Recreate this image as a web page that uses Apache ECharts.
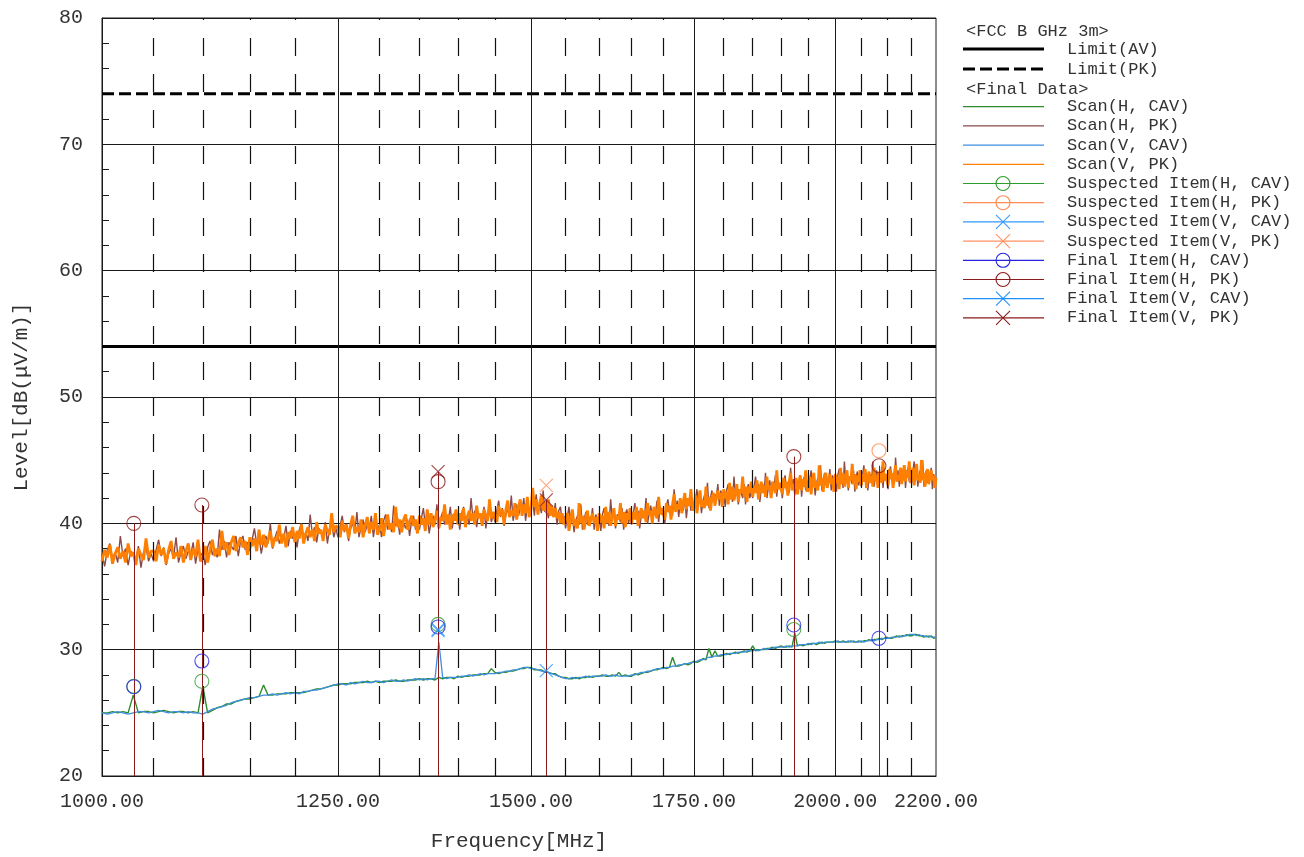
<!DOCTYPE html>
<html>
<head>
<meta charset="utf-8">
<title>Radiated emission scan 1-2.2 GHz</title>
<script src="https://cdn.jsdelivr.net/npm/echarts@6/dist/echarts.min.js"></script>
<style>
  html, body { margin: 0; padding: 0; background: #ffffff; }
  #chart { width: 1304px; height: 857px; }
</style>
</head>
<body>
<div id="chart"></div>
<script>
// ---- axis ticks and grid ----
const X_MIN = 1000, X_MAX = 2200;
const X_TICKS = [1000, 1250, 1500, 1750, 2000, 2200];
const X_GRID_SOLID = [1250, 1500, 1750, 2000];
const X_GRID_DASHED = [1050, 1100, 1150, 1200, 1300, 1350, 1400, 1450, 1550, 1600,
                       1650, 1700, 1800, 1850, 1900, 1950, 2050, 2100, 2150];
const Y_MIN = 20, Y_MAX = 80;

// ---- limits (dBuV/m) ----
const LIMIT_AV = 54;
const LIMIT_PK = 74;

// ---- peak scans: 2.5 MHz step from 1000 MHz ----
const PK_START = 1000, PK_STEP = 2.5;
const scanVPK = [
  37.0,37.9,37.3,38.3,36.8,37.6,38.1,37.2,37.8,36.9,38.4,37.4,37.7,36.7,38.0,37.5,37.1,38.8,37.3,37.8,
  37.8,37.0,38.3,37.5,38.0,36.8,37.9,38.6,37.2,37.7,37.3,38.2,36.9,37.8,38.4,37.1,38.0,37.4,38.7,37.0,
  37.3,38.2,36.9,37.9,38.7,37.4,38.0,37.4,39.4,37.9,38.5,37.5,38.5,39.0,37.8,38.4,38.9,38.1,38.6,37.5,
  38.9,38.2,38.8,37.8,39.5,38.3,39.1,38.1,38.7,39.4,38.1,38.9,38.6,39.9,38.4,39.2,38.1,39.3,38.8,39.7,
  38.5,39.4,38.8,39.9,38.4,39.2,39.7,38.9,39.5,38.6,40.1,39.2,39.5,38.6,39.9,39.4,39.1,40.8,39.3,39.8,
  39.7,38.9,40.2,39.4,39.9,38.8,39.9,40.6,39.2,39.7,39.3,40.3,38.9,39.8,40.5,39.2,40.1,39.5,40.8,39.1,
  39.5,40.4,39.0,40.0,40.7,39.5,40.0,39.3,41.3,39.7,40.3,39.3,40.3,40.7,39.5,40.1,40.6,39.8,40.3,39.2,
  40.6,39.9,40.4,39.4,41.1,39.9,40.8,39.7,40.3,41.0,39.6,40.5,40.2,41.5,39.9,40.7,39.5,40.7,40.2,41.1,
  39.9,40.8,40.2,41.2,39.7,40.5,41.0,40.2,40.8,39.9,41.4,40.4,40.8,39.8,41.1,40.6,40.2,41.9,40.4,40.9,
  40.9,40.1,41.4,40.6,41.1,39.9,41.1,41.8,40.5,41.0,40.6,41.6,40.3,41.2,41.9,40.6,41.5,40.8,42.1,40.5,
  41.0,42.8,41.3,41.9,40.7,41.6,42.2,41.0,41.7,40.8,41.9,40.6,41.4,40.5,41.2,40.4,40.9,40.0,40.8,39.9,
  39.9,40.8,39.4,40.4,41.1,39.8,40.3,39.6,41.6,40.0,40.6,39.5,40.5,41.0,39.8,40.3,40.8,40.0,40.5,39.4,
  40.8,40.1,40.6,39.6,41.3,40.0,40.9,39.8,40.5,41.2,39.8,40.6,40.3,41.6,40.0,40.9,39.7,40.8,40.3,41.2,
  40.0,40.9,40.3,41.3,39.8,40.7,41.2,40.4,41.0,40.1,41.6,40.7,41.0,40.0,41.3,40.8,40.4,42.1,40.7,41.2,
  41.1,40.3,41.6,40.9,41.4,40.3,41.5,42.3,40.9,41.5,41.1,42.0,40.8,41.7,42.4,41.1,42.0,41.4,42.7,41.0,
  41.3,42.2,40.8,41.8,42.6,41.3,41.8,41.2,42.9,41.4,42.1,41.0,42.0,42.4,41.4,42.0,42.6,41.9,42.4,41.3,
  42.7,42.0,42.5,41.5,43.2,41.9,42.9,41.8,42.4,43.1,41.7,42.7,42.4,43.7,42.1,42.9,41.7,42.9,42.4,43.3,
  42.1,43.0,42.4,43.4,41.9,42.7,43.3,42.4,43.0,42.1,43.7,42.7,43.0,42.0,43.3,42.8,42.4,44.2,42.7,43.2,
  43.1,42.3,43.6,42.8,43.3,42.2,43.3,44.0,42.6,43.1,42.7,43.6,42.3,43.2,43.8,42.6,43.5,42.9,44.2,42.5,
  42.8,43.7,42.3,43.3,44.0,42.8,43.3,42.6,44.6,43.0,43.6,42.5,43.6,44.0,42.8,43.4,43.9,43.1,43.6,42.5,
  43.9,43.2,43.7,42.7,44.4,43.1,44.0,42.9,43.5,44.2,42.8,43.7,43.4,44.7,43.1,43.9,42.7,43.8,43.3,44.2,
  43.0,43.9,43.3,44.3,42.8,43.6,44.1,43.2,43.8,42.9,44.4,43.4,43.8,42.8,44.1,43.6,43.2,44.9,43.4,43.9,
  43.8,43.0,44.3,43.5,44.0,42.8,43.9,44.6,43.3,43.8,43.4,44.4,43.1,44.0,44.6,43.3,44.2,43.6,44.9,43.2,
  43.5,44.4,43.0,44.0,44.7,43.4,43.9,43.2,45.0,43.4,44.0,42.9,43.9,44.3,43.1,43.7,44.2,43.4,43.8,42.8,
  43.6
];
const scanHPK = [
  37.6,36.6,37.9,38.4,37.2,37.7,36.9,39.0,37.4,38.0,36.7,37.8,37.5,37.1,38.2,36.5,37.7,38.1,37.0,37.6,
  37.0,37.9,38.7,37.4,38.1,36.7,37.6,38.0,37.3,38.9,36.9,37.7,38.2,37.2,37.8,37.5,38.5,36.8,38.0,37.4,
  37.7,36.7,38.1,38.6,37.5,38.0,37.3,39.5,37.9,38.6,37.3,38.5,38.2,37.9,39.0,37.4,38.6,39.0,37.9,38.5,
  37.8,38.7,39.6,38.3,39.0,37.6,38.6,39.0,38.4,40.0,38.0,38.8,39.4,38.4,39.0,38.8,39.8,38.2,39.4,38.8,
  39.1,38.1,39.5,40.0,38.8,39.3,38.6,40.7,39.1,39.7,38.5,39.6,39.3,38.9,40.1,38.4,39.6,40.0,38.9,39.6,
  38.9,39.8,40.6,39.3,40.0,38.6,39.6,40.0,39.3,40.9,38.9,39.7,40.3,39.3,39.9,39.6,40.6,38.9,40.1,39.5,
  39.9,38.9,40.2,40.7,39.5,40.0,39.3,41.4,39.8,40.4,39.1,40.2,40.0,39.6,40.3,39.0,40.2,40.6,39.5,40.1,
  39.5,40.4,41.2,39.9,40.6,39.2,40.2,40.6,39.9,41.5,39.6,40.4,40.9,39.9,40.5,40.3,41.3,39.6,40.8,40.2,
  40.5,39.5,40.8,41.3,40.1,40.6,39.9,42.0,40.4,41.0,39.7,40.8,40.6,40.2,41.3,39.6,40.8,41.2,40.1,40.7,
  40.1,41.0,41.8,40.5,41.2,39.8,40.7,41.1,40.6,42.2,40.2,41.0,41.5,40.6,41.2,41.0,42.0,40.2,41.4,40.9,
  41.3,41.8,40.6,42.3,41.0,41.5,40.8,42.6,40.9,41.3,40.4,41.5,41.1,40.5,41.6,39.9,41.0,41.3,40.1,40.6,
  39.6,40.5,41.3,40.0,40.7,39.3,40.2,40.6,39.9,41.5,39.5,40.3,40.9,39.9,40.5,40.2,41.2,39.5,40.7,40.1,
  40.4,39.4,40.7,41.2,40.0,40.5,39.8,41.9,40.3,40.9,39.6,40.7,40.5,40.1,41.2,39.5,40.7,41.1,40.0,40.6,
  39.9,40.8,41.6,40.3,41.0,39.6,40.6,41.0,40.4,42.0,40.0,40.8,41.4,40.4,41.0,40.8,41.8,40.1,41.3,40.7,
  41.0,40.0,41.4,41.9,40.8,41.3,40.6,42.7,41.2,41.8,40.5,41.6,41.4,41.0,42.1,40.4,41.6,42.0,41.0,41.6,
  41.0,41.9,42.7,41.5,42.2,40.8,41.8,42.2,41.6,43.2,41.2,42.0,42.6,41.7,42.3,42.1,43.1,41.4,42.6,42.0,
  42.3,41.3,42.6,43.1,41.9,42.4,41.7,43.7,42.2,42.8,41.5,42.6,42.4,42.0,43.1,41.5,42.7,43.1,42.0,42.7,
  42.0,42.9,43.7,42.4,43.1,41.7,42.7,43.1,42.4,44.0,42.0,42.8,43.4,42.4,43.0,42.8,43.8,42.1,43.3,42.7,
  43.0,42.0,43.3,43.8,42.6,43.1,42.4,44.4,42.9,43.5,42.2,43.3,43.1,42.7,43.8,42.1,43.3,43.7,42.6,43.2,
  42.5,43.4,44.2,42.9,43.6,42.2,43.2,43.6,43.0,44.6,42.6,43.4,44.0,43.0,43.6,43.3,44.3,42.6,43.8,43.2,
  43.5,42.5,43.8,44.3,43.1,43.6,42.8,44.9,43.3,43.9,42.6,43.7,43.5,43.1,44.2,42.5,43.7,44.1,43.0,43.6,
  42.9,43.8,44.6,43.3,44.0,42.6,43.5,43.9,43.3,44.9,42.9,43.7,44.2,43.2,43.8,43.5,44.5,42.8,44.0,43.4,
  43.7,42.7,44.0,44.5,43.3,43.8,43.1,45.2,43.6,44.2,42.9,44.0,43.8,43.4,44.5,42.8,44.0,44.4,43.3,43.9,
  43.2,44.1,44.9,43.6,44.3,42.9,43.8,44.2,43.5,45.0,42.9,43.7,44.2,43.2,43.8,43.5,44.4,42.7,43.9,43.3,
  43.5
];

// ---- CISPR average scans: 5 MHz step from 1000 MHz ----
const CAV_START = 1000, CAV_STEP = 5;
const scanVCAV = [
  25.0,24.9,25.0,25.1,25.0,24.9,25.0,25.1,25.1,25.0,
  25.1,25.2,25.1,25.0,25.1,25.1,25.0,25.1,25.0,25.0,
  24.9,25.1,25.3,25.4,25.5,25.6,25.8,25.9,26.0,26.1,
  26.2,26.2,26.3,26.4,26.4,26.5,26.4,26.5,26.6,26.5,
  26.6,26.5,26.7,26.7,26.8,26.8,26.9,27.0,27.1,27.2,
  27.3,27.3,27.2,27.4,27.3,27.4,27.5,27.4,27.4,27.5,
  27.5,27.4,27.5,27.6,27.5,27.5,27.6,27.5,27.6,27.7,
  27.6,27.7,27.6,27.7,27.7,30.6,27.8,27.7,27.8,27.8,
  27.8,27.9,27.9,28.0,27.9,28.0,28.1,28.0,28.1,28.1,
  28.1,28.2,28.2,28.3,28.3,28.4,28.4,28.5,28.6,28.6,
  28.5,28.5,28.4,28.3,28.3,28.2,28.1,28.0,27.9,27.8,
  27.7,27.7,27.8,27.7,27.8,27.8,27.9,27.8,27.9,27.9,
  27.9,27.9,28.0,27.9,27.9,28.0,27.9,27.9,27.9,27.9,
  28.0,28.0,28.1,28.2,28.2,28.3,28.3,28.4,28.5,28.5,
  28.5,28.6,28.6,28.7,28.7,28.8,28.8,28.9,28.9,29.0,
  29.0,29.1,29.2,29.2,29.3,29.4,29.4,29.5,29.5,29.6,
  29.6,29.6,29.7,29.7,29.7,29.8,29.8,29.8,29.9,29.9,
  29.9,30.0,29.9,30.0,30.1,30.0,30.1,30.1,30.2,30.2,
  30.2,30.2,30.3,30.2,30.3,30.3,30.3,30.4,30.4,30.4,
  30.5,30.4,30.5,30.5,30.6,30.5,30.6,30.6,30.6,30.6,
  30.6,30.7,30.6,30.6,30.6,30.7,30.6,30.7,30.6,30.6,
  30.7,30.6,30.7,30.7,30.8,30.7,30.8,30.8,30.9,30.9,
  30.9,30.9,31.0,31.0,31.0,31.1,31.0,31.1,31.1,31.2,
  31.2,31.2,31.1,31.2,31.1,31.1,31.0,31.1,31.0,31.0,
  31.0
];
const scanHCAV = [
  25.0,25.0,25.1,25.0,25.1,25.0,26.4,25.0,25.1,25.1,
  25.0,25.1,25.2,25.1,25.0,25.1,25.1,25.0,25.1,25.0,
  27.1,25.0,25.2,25.4,25.5,25.7,25.7,25.9,26.0,26.1,
  26.1,26.2,26.3,27.2,26.4,26.4,26.5,26.5,26.5,26.6,
  26.6,26.6,26.6,26.7,26.8,26.9,26.9,27.0,27.1,27.2,
  27.2,27.3,27.3,27.3,27.4,27.4,27.4,27.5,27.4,27.5,
  27.4,27.5,27.5,27.5,27.6,27.5,27.5,27.6,27.6,27.6,
  27.7,27.6,27.7,27.7,27.6,27.8,27.7,27.8,27.8,27.7,
  27.9,27.8,27.9,27.9,28.0,28.0,28.0,28.1,28.1,28.5,
  28.2,28.1,28.2,28.2,28.3,28.3,28.4,28.5,28.5,28.6,
  28.6,28.4,28.4,28.4,28.2,28.2,28.1,28.1,27.9,27.8,
  27.8,27.7,27.7,27.8,27.7,27.8,27.8,27.9,27.8,27.9,
  27.9,28.0,27.9,27.9,28.0,27.9,28.2,27.9,28.0,27.9,
  27.9,28.1,28.0,28.1,28.2,28.2,28.3,28.4,28.4,28.5,
  28.6,28.5,28.6,29.4,28.7,28.7,28.8,28.9,28.8,28.9,
  29.1,29.0,29.1,29.3,29.2,30.1,29.4,29.9,29.5,29.5,
  29.6,29.7,29.6,29.7,29.8,29.7,29.8,29.9,29.8,29.9,
  30.3,29.9,30.0,30.0,30.0,30.1,30.1,30.2,30.1,30.2,
  30.3,30.2,30.2,30.3,30.2,31.3,30.3,30.4,30.3,30.4,
  30.4,30.5,30.5,30.4,30.5,30.6,30.5,30.6,30.6,30.6,
  30.7,30.6,30.6,30.7,30.6,30.6,30.7,30.6,30.6,30.7,
  30.6,30.7,30.7,30.8,30.7,30.8,30.8,30.9,30.8,30.9,
  31.0,30.9,30.9,31.0,31.1,31.0,31.1,31.1,31.2,31.1,
  31.1,31.2,31.2,31.1,31.1,31.0,31.1,31.0,31.1,30.9,
  31.0
];

// ---- measured items: [frequency MHz, level dBuV/m] ----
const suspectedHCAV = [[1030.5, 27.1], [1099, 27.5], [1374, 32.0], [1923.3, 31.6]];
const suspectedHPK  = [[2084.5, 45.75]];
const suspectedVCAV = [[1374, 31.6]];
const suspectedVPK  = [[1522, 43.0]];
const finalHCAV = [[1030.5, 27.07], [1099, 29.1], [1374, 31.8], [1923.3, 31.95], [2084.5, 30.9]];
const finalHPK  = [[1030.5, 40.0], [1099, 41.45], [1374, 43.3], [1923.3, 45.28], [2084.5, 44.56]];
const finalVCAV = [[1374, 31.5], [1522, 28.34]];
const finalVPK  = [[1374, 44.09], [1522, 41.85]];

// ---- styling ----
const FONT = 'Liberation Mono';
const TEXT = '#333333';
const GRID = '#1a1a1a';
const STEM = '#8b1a1a';
const CROSS = 'path://M0,0L10,10M10,0L0,10';

const toPoints = (vals, start, step) => vals.map((v, i) => [start + i * step, v]);

function scanSeries(name, color, vals, start, step, width, z) {
  return {
    name, type: 'line', data: toPoints(vals, start, step),
    showSymbol: false, symbol: 'none', sampling: 'none', z,
    lineStyle: { color, width }, itemStyle: { color }, emphasis: { disabled: true }
  };
}
function itemSeries(name, color, shape, data, z) {
  return {
    name, type: 'scatter', data, z,
    symbol: shape === 'circle' ? 'circle' : CROSS,
    symbolSize: shape === 'circle' ? 14 : 13,
    itemStyle: { color: 'rgba(0,0,0,0)', borderColor: color, borderWidth: 1.1 },
    emphasis: { disabled: true }
  };
}

// legend entries, in order of the key
const KEY = [
  { name: 'Scan(H, CAV)', color: '#2e8b2e', kind: 'line' },
  { name: 'Scan(H, PK)', color: '#8a4a4a', kind: 'line' },
  { name: 'Scan(V, CAV)', color: '#3d8fe0', kind: 'line' },
  { name: 'Scan(V, PK)', color: '#ff8000', kind: 'line' },
  { name: 'Suspected Item(H, CAV)', color: '#2e9b2e', kind: 'circle' },
  { name: 'Suspected Item(H, PK)', color: '#ff8c50', kind: 'circle' },
  { name: 'Suspected Item(V, CAV)', color: '#3399ff', kind: 'cross' },
  { name: 'Suspected Item(V, PK)', color: '#ff9060', kind: 'cross' },
  { name: 'Final Item(H, CAV)', color: '#2424e0', kind: 'circle' },
  { name: 'Final Item(H, PK)', color: '#8b1a1a', kind: 'circle' },
  { name: 'Final Item(V, CAV)', color: '#1e90ff', kind: 'cross' },
  { name: 'Final Item(V, PK)', color: '#8b1a1a', kind: 'cross' }
];
const col = n => KEY.find(k => k.name === n).color;

// stems: one vertical line per final frequency, up to the highest peak item
const stemTop = {};
[...finalHPK, ...finalVPK].forEach(([f, v]) => { stemTop[f] = Math.max(stemTop[f] || Y_MIN, v); });
const stems = Object.keys(stemTop).map(f => [
  { coord: [Number(f), Y_MIN] }, { coord: [Number(f), stemTop[f]] }
]);

const gridLines = [
  ...X_GRID_SOLID.map(v => ({ xAxis: v, lineStyle: { type: 'solid', color: GRID, width: 1 } })),
  ...X_GRID_DASHED.map(v => ({ xAxis: v, lineStyle: { type: [18, 18], color: '#111111', width: 1.2 } }))
];

const series = [
  {
    name: 'frequency-grid', type: 'line', data: [], z: 1, silent: true,
    markLine: { silent: true, symbol: ['none', 'none'], label: { show: false }, animation: false, data: gridLines }
  },
  {
    name: 'Limit(AV)', type: 'line', data: [[X_MIN, LIMIT_AV], [X_MAX, LIMIT_AV]], z: 3,
    symbol: 'none', lineStyle: { color: '#000000', width: 3 }, emphasis: { disabled: true }
  },
  {
    name: 'Limit(PK)', type: 'line', data: [[X_MIN, LIMIT_PK], [X_MAX, LIMIT_PK]], z: 3,
    symbol: 'none', lineStyle: { color: '#000000', width: 3, type: [12, 5] }, emphasis: { disabled: true }
  },
  scanSeries('Scan(H, CAV)', col('Scan(H, CAV)'), scanHCAV, CAV_START, CAV_STEP, 1.4, 4),
  scanSeries('Scan(V, CAV)', col('Scan(V, CAV)'), scanVCAV, CAV_START, CAV_STEP, 1.3, 4),
  scanSeries('Scan(H, PK)', col('Scan(H, PK)'), scanHPK, PK_START, PK_STEP, 1.4, 4),
  scanSeries('Scan(V, PK)', col('Scan(V, PK)'), scanVPK, PK_START, PK_STEP, 2.8, 4),
  itemSeries('Suspected Item(H, CAV)', col('Suspected Item(H, CAV)'), 'circle', suspectedHCAV, 6),
  itemSeries('Suspected Item(H, PK)', col('Suspected Item(H, PK)'), 'circle', suspectedHPK, 6),
  itemSeries('Suspected Item(V, CAV)', col('Suspected Item(V, CAV)'), 'cross', suspectedVCAV, 6),
  itemSeries('Suspected Item(V, PK)', col('Suspected Item(V, PK)'), 'cross', suspectedVPK, 6),
  itemSeries('Final Item(H, CAV)', col('Final Item(H, CAV)'), 'circle', finalHCAV, 7),
  Object.assign(itemSeries('Final Item(H, PK)', col('Final Item(H, PK)'), 'circle', finalHPK, 7), {
    markLine: { silent: true, symbol: ['none', 'none'], label: { show: false }, animation: false,
      lineStyle: { color: STEM, width: 1, type: 'solid' }, data: stems }
  }),
  itemSeries('Final Item(V, CAV)', col('Final Item(V, CAV)'), 'cross', finalVCAV, 7),
  itemSeries('Final Item(V, PK)', col('Final Item(V, PK)'), 'cross', finalVPK, 7)
];

// ---- key on the right ----
const KEY_LINE_X0 = 963, KEY_LINE_X1 = 1044, KEY_MARK_X = 1003, KEY_TEXT_X = 1067, KEY_HEAD_X = 966;
const keyText = (x, y, s) => ({ type: 'text', x, y, silent: true,
  style: { text: s, fill: TEXT, font: '17px "' + FONT + '"', textVerticalAlign: 'middle' } });
const keyLine = (y, color, width, dash) => ({ type: 'line', silent: true,
  shape: { x1: KEY_LINE_X0, y1: y, x2: KEY_LINE_X1, y2: y },
  style: { stroke: color, lineWidth: width, lineDash: dash || null } });

const graphics = [
  keyText(KEY_HEAD_X, 31, '<FCC B GHz 3m>'),
  keyLine(49, '#000000', 3), keyText(KEY_TEXT_X, 49, 'Limit(AV)'),
  keyLine(69, '#000000', 3, [12, 5]), keyText(KEY_TEXT_X, 69, 'Limit(PK)'),
  keyText(KEY_HEAD_X, 89, '<Final Data>')
];
KEY.forEach((k, i) => {
  const y = 106.7 + i * 19.2;
  graphics.push(keyLine(y, k.color, 1.2));
  if (k.kind === 'circle') {
    graphics.push({ type: 'circle', silent: true, shape: { cx: KEY_MARK_X, cy: y, r: 7 },
      style: { fill: 'rgba(0,0,0,0)', stroke: k.color, lineWidth: 1.1 } });
  } else if (k.kind === 'cross') {
    graphics.push({ type: 'line', silent: true, shape: { x1: KEY_MARK_X - 7, y1: y - 7, x2: KEY_MARK_X + 7, y2: y + 7 },
      style: { stroke: k.color, lineWidth: 1.1 } });
    graphics.push({ type: 'line', silent: true, shape: { x1: KEY_MARK_X - 7, y1: y + 7, x2: KEY_MARK_X + 7, y2: y - 7 },
      style: { stroke: k.color, lineWidth: 1.1 } });
  }
  graphics.push(keyText(KEY_TEXT_X, y, k.name));
});

const chart = echarts.init(document.getElementById('chart'), null, { renderer: 'canvas' });
chart.setOption({
  animation: false,
  backgroundColor: '#ffffff',
  grid: { left: 102, top: 18, width: 834, height: 758, show: true, borderColor: GRID, borderWidth: 1,
          backgroundColor: 'rgba(0,0,0,0)' },
  xAxis: {
    type: 'log', logBase: 10, min: X_MIN, max: X_MAX,
    name: 'Frequency[MHz]', nameLocation: 'middle', nameGap: 55,
    nameTextStyle: { fontFamily: FONT, fontSize: 21, color: TEXT },
    axisLine: { show: true, lineStyle: { color: GRID, width: 1 } },
    axisTick: { show: false },
    minorTick: { show: false },
    splitLine: { show: false },
    minorSplitLine: { show: false },
    axisLabel: {
      customValues: X_TICKS, margin: 16,
      fontFamily: FONT, fontSize: 20, color: TEXT,
      formatter: v => Number(v).toFixed(2)
    }
  },
  yAxis: {
    type: 'value', min: Y_MIN, max: Y_MAX, interval: 10,
    name: 'Level[dB(\u03bcV/m)]', nameLocation: 'middle', nameGap: 70, nameRotate: 90,
    nameTextStyle: { fontFamily: FONT, fontSize: 21, color: TEXT },
    axisLine: { show: true, lineStyle: { color: GRID, width: 1 } },
    axisTick: { show: true, inside: true, length: 7, lineStyle: { color: GRID } },
    minorTick: { show: true, splitNumber: 5, length: 7, lineStyle: { color: GRID } },
    splitLine: { show: true, lineStyle: { color: GRID, width: 1 } },
    axisLabel: { margin: 19, fontFamily: FONT, fontSize: 20, color: TEXT }
  },
  graphic: graphics,
  series
});
</script>
</body>
</html>
